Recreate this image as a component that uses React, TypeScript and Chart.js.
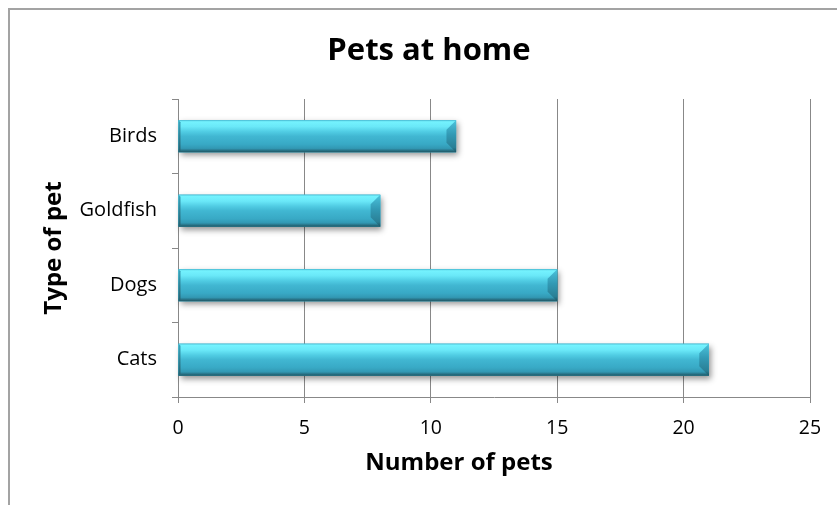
import { useEffect, useRef } from 'react';
import { Chart, registerables } from 'chart.js';

Chart.register(...registerables);

// Data
const categories = ['Cats', 'Dogs', 'Goldfish', 'Birds'];
const petCounts = [21, 15, 8, 11];
const xMin = 0;
const xMax = 25;
const xStep = 5;

const chartTitle = 'Pets at home';
const xAxisTitle = 'Number of pets';
const yAxisTitle = 'Type of pet';

const FONT = "'Open Sans', 'Noto Sans', sans-serif";
const GRID = '#888888';

// Shaded, bevelled look for the bars: a soft drop shadow underneath,
// a vertical cylinder gradient and bevelled end caps on top of each bar.
const cylinderBars = {
  id: 'cylinderBars',
  beforeDatasetsDraw(chart: any) {
    const ctx = chart.ctx as CanvasRenderingContext2D;
    chart.getDatasetMeta(0).data.forEach((el: any) => {
      const { x, y, base, height } = el.getProps(['x', 'y', 'base', 'height'], true);
      const L = Math.min(base, x);
      const R = Math.max(base, x);
      const T = y - height / 2;
      ctx.save();
      ctx.shadowColor = 'rgba(0,0,0,0.42)';
      ctx.shadowBlur = 6;
      ctx.shadowOffsetX = 2;
      ctx.shadowOffsetY = 3;
      ctx.fillStyle = '#3aaecb';
      ctx.fillRect(L, T, R - L, height);
      ctx.restore();
    });
  },
  afterDatasetsDraw(chart: any) {
    const ctx = chart.ctx as CanvasRenderingContext2D;
    chart.getDatasetMeta(0).data.forEach((el: any) => {
      const { x, y, base, height } = el.getProps(['x', 'y', 'base', 'height'], true);
      const L = Math.min(base, x);
      const R = Math.max(base, x);
      const T = y - height / 2;
      const B = y + height / 2;

      ctx.save();
      const body = ctx.createLinearGradient(0, T, 0, B);
      body.addColorStop(0, '#52c6db');
      body.addColorStop(0.05, '#74f2fe');
      body.addColorStop(0.2, '#6ae8f8');
      body.addColorStop(0.36, '#50cce3');
      body.addColorStop(0.5, '#41b7d2');
      body.addColorStop(0.75, '#38a9c5');
      body.addColorStop(0.88, '#3298b3');
      body.addColorStop(0.95, '#276f82');
      body.addColorStop(1, '#1f5663');
      ctx.fillStyle = body;
      ctx.fillRect(L, T, R - L, B - T);

      // right end cap
      const b = Math.min(10, height * 0.3, (R - L) / 2);
      const cap = ctx.createLinearGradient(0, T, 0, B);
      cap.addColorStop(0, '#4cc3dc');
      cap.addColorStop(0.45, '#3299b4');
      cap.addColorStop(0.85, '#2a7f95');
      cap.addColorStop(1, '#1d5361');
      ctx.fillStyle = cap;
      ctx.beginPath();
      ctx.moveTo(R - b, T + b);
      ctx.lineTo(R, T);
      ctx.lineTo(R, B);
      ctx.lineTo(R - b, B - b);
      ctx.closePath();
      ctx.fill();

      // left end cap
      const lb = Math.min(2, height * 0.1);
      const lcap = ctx.createLinearGradient(0, T, 0, B);
      lcap.addColorStop(0, '#3aa6bf');
      lcap.addColorStop(1, '#24606f');
      ctx.fillStyle = lcap;
      ctx.beginPath();
      ctx.moveTo(L, T);
      ctx.lineTo(L + lb, T + lb);
      ctx.lineTo(L + lb, B - lb);
      ctx.lineTo(L, B);
      ctx.closePath();
      ctx.fill();
      ctx.restore();
    });
  },
};

// Caption under the value axis, set a little left of the plot centre.
const valueAxisCaption = {
  id: 'valueAxisCaption',
  afterDraw(chart: any) {
    const { ctx, chartArea } = chart;
    ctx.save();
    ctx.font = `bold 24px ${FONT}`;
    ctx.fillStyle = '#000';
    ctx.textAlign = 'center';
    ctx.textBaseline = 'middle';
    ctx.fillText(xAxisTitle, chartArea.left + 281, chartArea.bottom + 66);
    ctx.restore();
  },
};

export default function App() {
  const canvasRef = useRef<HTMLCanvasElement>(null);

  useEffect(() => {
    const canvas = canvasRef.current;
    if (!canvas) return;
    const chart = new Chart(canvas, {
      type: 'bar',
      data: {
        labels: categories,
        datasets: [
          {
            data: petCounts,
            backgroundColor: '#3aaecb',
            borderWidth: 0,
            barPercentage: 0.43,
            categoryPercentage: 1,
          },
        ],
      },
      options: {
        indexAxis: 'y',
        responsive: false,
        animation: false,
        devicePixelRatio: 1,
        layout: { padding: { left: 38, right: 36, top: 0, bottom: 0 } },
        plugins: {
          legend: { display: false },
          tooltip: { enabled: false },
          title: {
            display: true,
            text: chartTitle,
            color: '#000',
            font: { family: FONT, size: 31, weight: 'bold', lineHeight: 1.2 },
            padding: { top: 23, bottom: 28.8 },
          },
        },
        scales: {
          x: {
            type: 'linear',
            min: xMin,
            max: xMax,
            ticks: {
              stepSize: xStep,
              color: '#000',
              font: { family: FONT, size: 19.5 },
              padding: 13.5,
            },
            grid: { color: GRID, lineWidth: 1, tickLength: 6, drawTicks: true },
            border: { color: GRID, width: 1 },
            title: { display: false },
            afterFit: (scale: any) => {
              scale.height = 119;
            },
          },
          y: {
            reverse: true,
            ticks: {
              color: '#000',
              font: { family: FONT, size: 20 },
              padding: 15,
            },
            grid: {
              display: true,
              drawOnChartArea: false,
              drawTicks: true,
              tickLength: 6,
              color: GRID,
              offset: true,
            },
            border: { color: GRID, width: 1 },
            title: {
              display: true,
              text: yAxisTitle,
              color: '#000',
              font: { family: FONT, size: 24, weight: 'bold', lineHeight: 1.2 },
              padding: { top: -8.7, bottom: 0 },
            },
            afterFit: (scale: any) => {
              scale.width = 130;
            },
          },
        },
      } as any,
      plugins: [cylinderBars, valueAxisCaption],
    });
    return () => chart.destroy();
  }, []);

  return (
    <div
      style={{
        position: 'fixed',
        left: 8,
        top: 8,
        width: 840,
        height: 510,
        border: '2px solid #a3a3a3',
        boxSizing: 'border-box',
        background: '#fff',
      }}
    >
      <canvas
        ref={canvasRef}
        width={836}
        height={506}
        style={{ display: 'block', width: 836, height: 506 }}
      />
    </div>
  );
}
